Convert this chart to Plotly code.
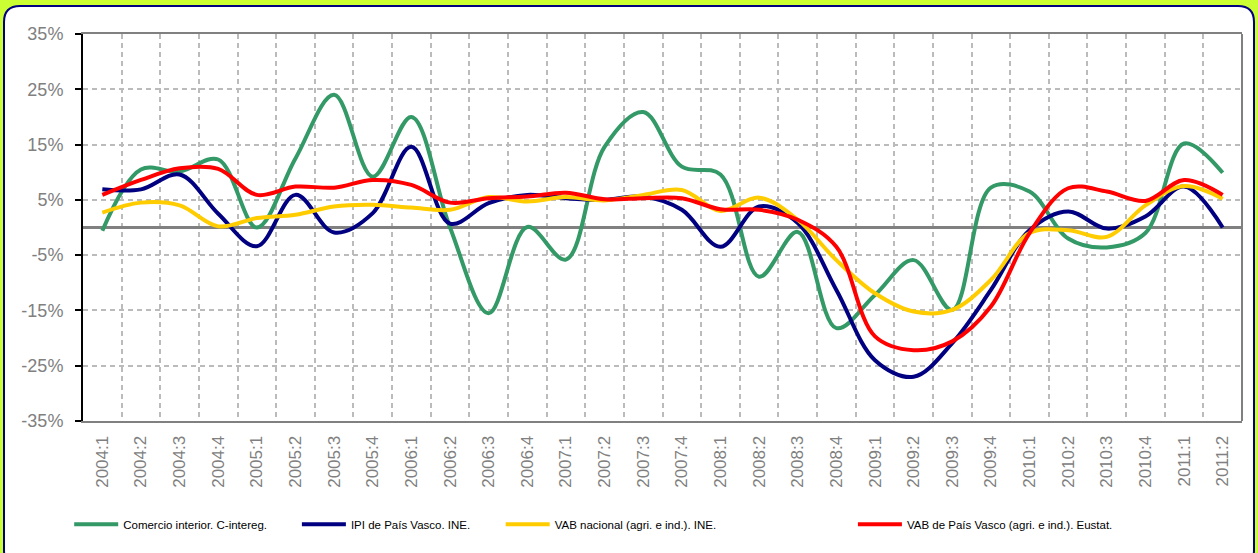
import plotly.graph_objects as go

# trimestres 2004:1 .. 2011:2
quarters = ["2004:1", "2004:2", "2004:3", "2004:4", "2005:1", "2005:2", "2005:3", "2005:4",
            "2006:1", "2006:2", "2006:3", "2006:4", "2007:1", "2007:2", "2007:3", "2007:4",
            "2008:1", "2008:2", "2008:3", "2008:4", "2009:1", "2009:2", "2009:3", "2009:4",
            "2010:1", "2010:2", "2010:3", "2010:4", "2011:1", "2011:2"]

comercio = [-0.6, 10.5, 10.1, 12.3, 0.0, 12.5, 24.0, 9.2, 20.0, 0.0, -15.5, 0.1, -5.8, 14.6, 20.9,
            11.0, 9.6, -8.9, -0.8, -18.2, -12.2, -5.9, -14.9, 7.2, 6.5, -2.0, -3.6, -1.0, 15.2, 9.9]
ipi_pv = [6.9, 6.9, 9.6, 2.5, -3.4, 5.9, -0.9, 2.6, 14.6, 0.7, 4.4, 5.9, 5.3, 5.0, 5.6,
          3.2, -3.5, 3.8, 0.8, -11.3, -24.0, -27.0, -20.9, -11.3, -0.5, 2.9, -0.2, 2.0, 7.4, 0.0]
vab_nac = [2.7, 4.5, 4.0, 0.2, 1.7, 2.3, 3.8, 4.1, 3.6, 3.2, 5.5, 4.7, 5.5, 4.9, 5.9,
           6.8, 3.0, 5.4, 1.4, -5.9, -11.9, -15.2, -14.9, -9.5, -1.0, -0.5, -1.7, 4.0, 7.5, 5.2]
vab_pv = [5.9, 8.6, 10.7, 10.6, 5.9, 7.4, 7.2, 8.6, 7.7, 4.5, 5.3, 5.6, 6.3, 5.1, 5.3,
          5.3, 3.3, 3.2, 1.4, -3.5, -19.7, -22.2, -20.6, -14.3, -1.0, 7.1, 6.5, 4.8, 8.6, 5.9]

series = [
    ("Comercio interior. C-intereg.", comercio, "#339966", "legend", 0.055),
    ("IPI de País Vasco. INE.", ipi_pv, "#000080", "legend2", 0.236),
    ("VAB nacional (agri. e ind.). INE.", vab_nac, "#FFCC00", "legend3", 0.398),
    ("VAB de País Vasco (agri. e ind.). Eustat.", vab_pv, "#FF0000", "legend4", 0.678),
]

font = "Liberation Sans, Arial, sans-serif"

fig = go.Figure()
for name, vals, col, leg, lx in series:
    fig.add_trace(go.Scatter(x=quarters, y=vals, name=name, mode="lines",
                             line=dict(color=col, width=4, shape="spline", smoothing=1),
                             legend=leg))

legend_style = dict(orientation="h", xref="container", yref="container", y=0.052,
                    yanchor="middle", bgcolor="rgba(0,0,0,0)", itemwidth=44,
                    font=dict(family=font, size=11.5, color="black"))
layout_legends = {}
for name, vals, col, leg, lx in series:
    layout_legends[leg] = dict(legend_style, x=lx)

W, H = 1258, 553
ml, mr, mt, mb = 83, 16, 34, 132
pw, ph = W - ml - mr, H - mt - mb


def px2paper(px, py):
    return (px - ml) / pw, (H - mb - py) / ph


# white rounded panel with navy border on the green page
L, T = px2paper(4, 6)
R, B = px2paper(1254, 566)
rx, ry = 16 / pw, 16 / ph
panel = (f"M{L+rx},{T} L{R-rx},{T} Q{R},{T} {R},{T-ry} L{R},{B+ry} Q{R},{B} {R-rx},{B} "
         f"L{L+rx},{B} Q{L},{B} {L},{B+ry} L{L},{T-ry} Q{L},{T} {L+rx},{T} Z")

fig.update_layout(
    width=W, height=H,
    margin=dict(l=ml, r=mr, t=mt, b=mb),
    paper_bgcolor="#CCFF33",
    plot_bgcolor="white",
    showlegend=True,
    shapes=[
        dict(type="path", path=panel, xref="paper", yref="paper", layer="below",
             fillcolor="white", line=dict(color="#000080", width=2)),
        dict(type="line", xref="paper", yref="paper", x0=1, x1=1, y0=0, y1=1,
             line=dict(color="#808080", width=2)),
    ],
    **layout_legends,
)

fig.update_xaxes(
    type="category", range=[-0.5, 29.5], tickson="boundaries",
    showgrid=True, gridcolor="#BBBBBB", gridwidth=1.5, griddash="5px,4px",
    showline=True, linecolor="#808080", linewidth=2, mirror=True,
    ticks="", tickangle=-90, ticklabelstandoff=6,
    tickfont=dict(family=font, size=17, color="#808080"),
)
fig.update_yaxes(
    range=[-35, 35], tickvals=[-35, -25, -15, -5, 5, 15, 25, 35],
    ticktext=["-35%", "-25%", "-15%", "-5%", "5%", "15%", "25%", "35%"],
    showgrid=True, gridcolor="#BBBBBB", gridwidth=1.5, griddash="5px,4px",
    zeroline=True, zerolinecolor="#808080", zerolinewidth=2.5,
    showline=True, linecolor="black", linewidth=2,
    ticks="outside", tickcolor="black", ticklen=6, tickwidth=1.5, ticklabelstandoff=8,
    tickfont=dict(family=font, size=18, color="#808080"),
)

# no body margin so the figure sits at the window's corner
fig.write_html("out.html", config={"displayModeBar": False},
               post_script="document.body.style.margin='0';")
